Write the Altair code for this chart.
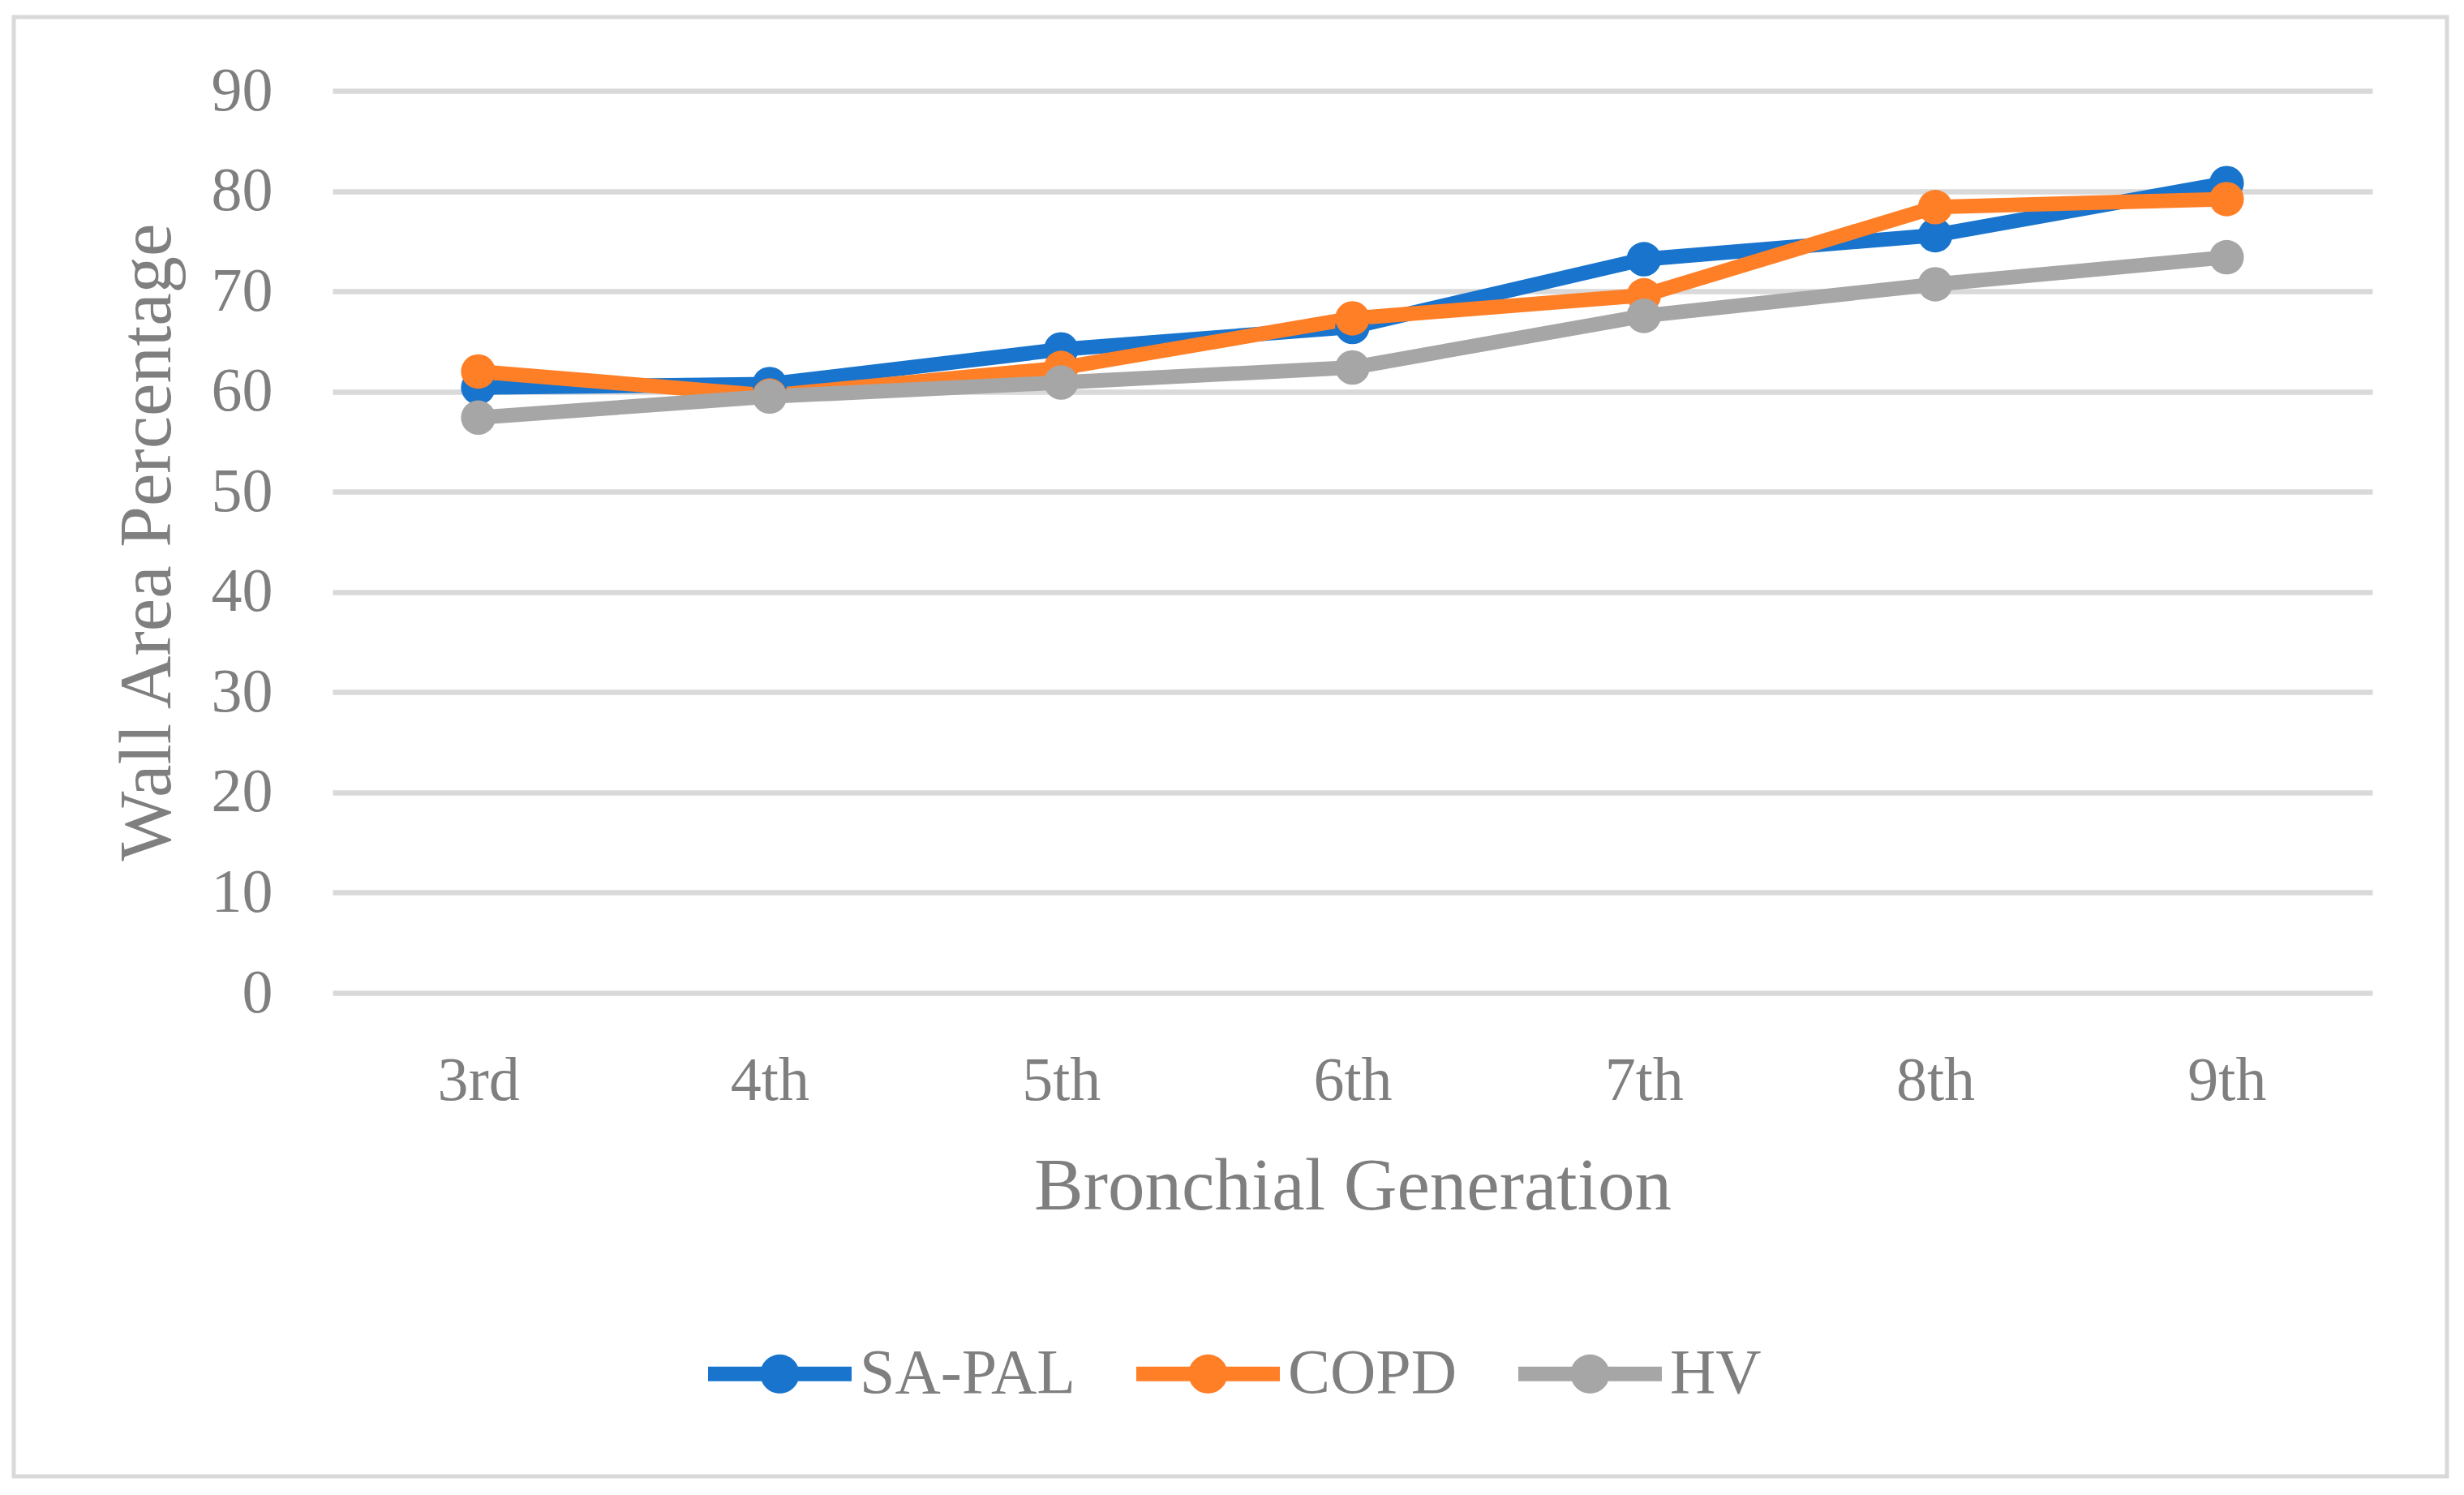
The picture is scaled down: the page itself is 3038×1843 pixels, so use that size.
import altair as alt
import pandas as pd

# ---- data ----
generations = ["3rd", "4th", "5th", "6th", "7th", "8th", "9th"]
groups = ["SA-PAL", "COPD", "HV"]
sa_pal = [60.4, 60.75, 64.2, 66.45, 73.2, 75.6, 80.8]
copd = [62.0, 59.6, 62.35, 67.3, 69.6, 78.4, 79.2]
hv = [57.4, 59.5, 60.9, 62.4, 67.55, 70.7, 73.4]
colors = ["#1874CD", "#FF7F27", "#A6A6A6"]
y_ticks = [0, 10, 20, 30, 40, 50, 60, 70, 80, 90]

rows = []
for g, vals in zip(groups, [sa_pal, copd, hv]):
    for gen, v in zip(generations, vals):
        rows.append({"gen": gen, "group": g, "value": v})
df = pd.DataFrame(rows)

W, H = 2515, 1112
FONT = "Liberation Serif"
TXT = "#7F7F7F"
GRID = "#D9D9D9"

legend_path = ("M-1,-0.102L1,-0.102L1,0.102L-1,0.102Z "
               "M0.272,0A0.272,0.272,0,1,1,-0.272,0A0.272,0.272,0,1,1,0.272,0Z")

x_enc = alt.X(
    "gen:N",
    sort=generations,
    scale=alt.Scale(domain=generations, type="point", padding=0.5),
    axis=alt.Axis(
        title="Bronchial Generation",
        labelAngle=0,
        labelFont=FONT, labelFontSize=76, labelColor=TXT, labelPadding=71,
        titleFont=FONT, titleFontSize=91, titleColor=TXT, titleFontWeight="normal",
        titleBaseline="alphabetic", titleX=W / 2, titleY=266,
        ticks=False, tickSize=0, domain=False, grid=False,
    ),
)
y_enc = alt.Y(
    "value:Q",
    scale=alt.Scale(domain=[0, 90], nice=False, zero=True),
    axis=alt.Axis(
        title="Wall Area Percentage",
        values=y_ticks,
        labelFont=FONT, labelFontSize=76, labelColor=TXT, labelPadding=74,
        titleFont=FONT, titleFontSize=91, titleColor=TXT, titleFontWeight="normal",
        titleBaseline="alphabetic", titleAngle=-90, titleAlign="center",
        titleX=-201, titleY=H / 2,
        ticks=False, tickSize=0, domain=False,
        grid=True, gridColor=GRID, gridWidth=6.5,
    ),
)

color_enc = alt.Color(
    "group:N",
    scale=alt.Scale(domain=groups, range=colors),
    sort=groups,
    legend=alt.Legend(
        title=None,
        orient="none",
        legendX=463,
        legendY=1493,
        direction="horizontal",
        columns=3,
        padding=0,
        symbolType=legend_path,
        symbolSize=31329,
        symbolStrokeWidth=0,
        symbolOpacity=1,
        symbolFillColor="#1874CD",
        labelFont=FONT,
        labelFontSize=78,
        labelColor=TXT,
        labelOffset=10,
        labelLimit=2000,
        columnPadding=75,
    ),
)

border = alt.Chart(pd.DataFrame({"k": [0]})).mark_rect(
    filled=False, stroke=GRID, strokeWidth=5, clip=False
).encode(
    x=alt.value(-393), x2=alt.value(2607), y=alt.value(-91), y2=alt.value(1708)
)

lines = alt.Chart(df).mark_line(strokeWidth=18, strokeJoin="round").encode(
    x=x_enc, y=y_enc, color=color_enc,
)

points = alt.Chart(df).mark_point(
    filled=True, shape="circle", size=1810, opacity=1, strokeWidth=0
).encode(
    x=x_enc, y=y_enc, color=color_enc,
)

chart = alt.layer(border, lines, points).properties(
    width=W,
    height=H,
    autosize=alt.AutoSizeParams(type="none"),
    padding={"left": 402, "top": 104, "right": 105, "bottom": 604},
    background="white",
).configure_view(stroke=None)

chart.save("out.html", embed_options={"renderer": "svg", "actions": False})
